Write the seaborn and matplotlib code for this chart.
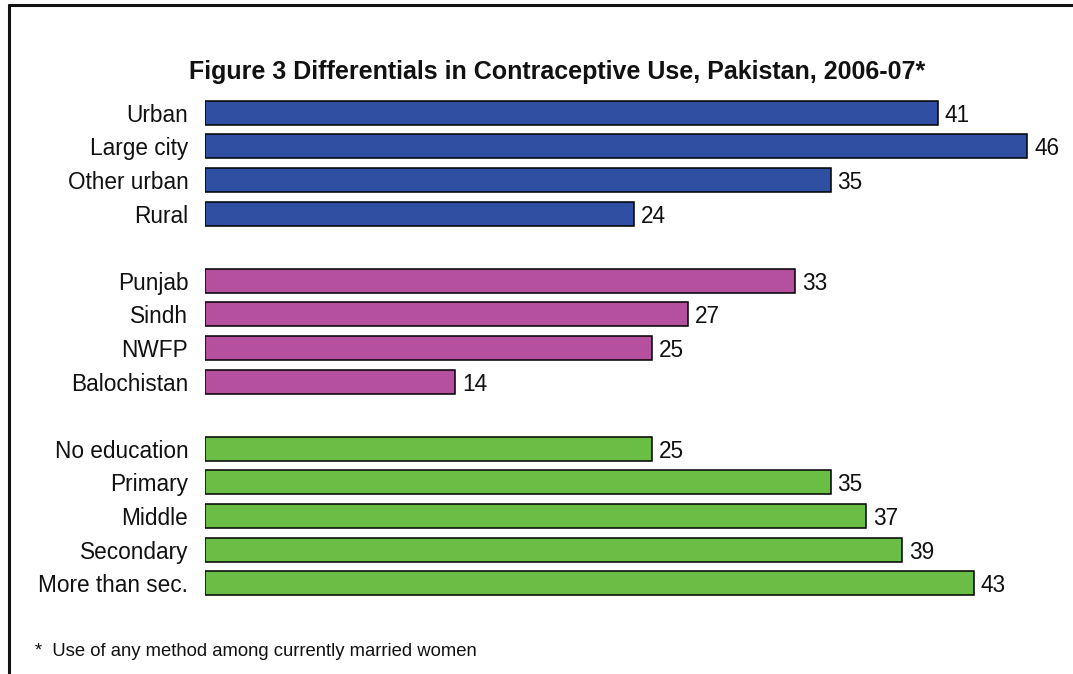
import matplotlib
matplotlib.use("Agg")
import matplotlib.pyplot as plt
from matplotlib.lines import Line2D
import seaborn as sns
import pandas as pd

categories = ["Urban", "Large city", "Other urban", "Rural",
              "Punjab", "Sindh", "NWFP", "Balochistan",
              "No education", "Primary", "Middle", "Secondary", "More than sec."]
values = [41, 46, 35, 24, 33, 27, 25, 14, 25, 35, 37, 39, 43]
groups = ["Residence"] * 4 + ["Province"] * 4 + ["Education"] * 5
group_colors = {"Residence": "#2F4FA2", "Province": "#B5509E", "Education": "#6ABD45"}
title = "Figure 3 Differentials in Contraceptive Use, Pakistan, 2006-07*"
footnote = "*  Use of any method among currently married women"

df = pd.DataFrame({"category": categories, "value": values, "group": groups})
order = categories[0:4] + [" "] + categories[4:8] + ["  "] + categories[8:]

sns.set_theme(style="white")
plt.rcParams["font.family"] = ["Liberation Sans", "DejaVu Sans"]

W, H = 1073, 674
fig = plt.figure(figsize=(W / 100, H / 100), dpi=100)
ax = fig.add_axes([205 / W, (H - 600) / H, (1063 - 205) / W, (600 - 96) / H])

sns.barplot(data=df, x="value", y="category", hue="group", order=order,
            palette=group_colors, saturation=1, dodge=False, width=0.72,
            edgecolor="black", linewidth=1.1, legend=False, ax=ax)

for c in ax.containers:
    texts = ax.bar_label(c, padding=5, fontsize=16.3, color="#111111")
    for t in texts:
        t.set_va("center_baseline")

ax.set_xlim(0, 48)
ax.set_ylim(14.5, -0.5)
ax.set_xlabel("")
ax.set_ylabel("")
ax.set_xticks([])
ax.tick_params(axis="y", length=0, pad=12, labelsize=16.3, labelcolor="#111111")
for lbl in ax.get_yticklabels():
    lbl.set_va("center_baseline")
for s in ax.spines.values():
    s.set_visible(False)

fig.text(557 / W, 1 - 72 / H, title, ha="center", va="center",
         fontsize=18, fontweight="bold", color="#111111")
fig.text(35 / W, 1 - 651 / H, footnote, ha="left", va="center",
         fontsize=13.3, color="#111111")

fig.add_artist(Line2D([8.5 / W, 8.5 / W], [0, 1 - 5 / H], transform=fig.transFigure,
                      color="#111111", linewidth=2.2))
fig.add_artist(Line2D([8.5 / W, 1], [1 - 5 / H, 1 - 5 / H], transform=fig.transFigure,
                      color="#111111", linewidth=2.2))

fig.savefig("out.png", dpi=100)
